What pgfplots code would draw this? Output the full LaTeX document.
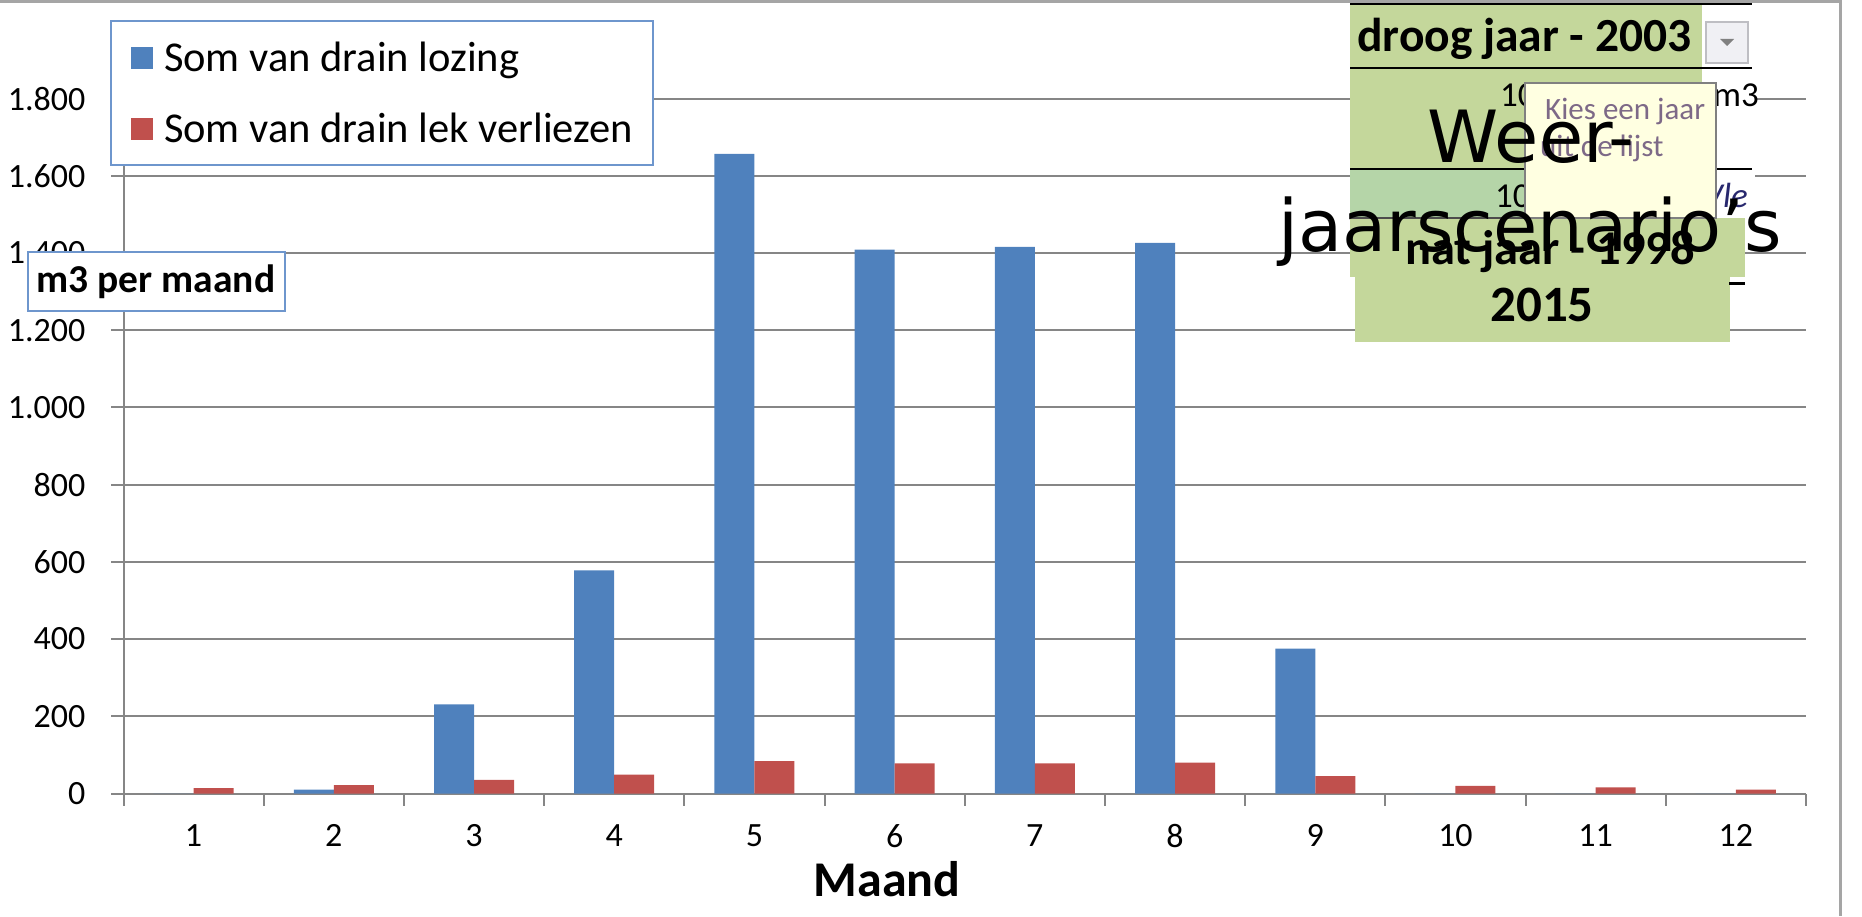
\documentclass[border=0pt]{standalone}
\usepackage{pgfplots}
\pgfplotsset{compat=1.18}
\usepackage{pgfplotstable}
\usepackage{fontspec}
\setmainfont{Carlito}
\newfontfamily\dejavu{DejaVu Sans}
\definecolor{barblue}{RGB}{79,129,189}
\definecolor{barred}{RGB}{192,80,77}
\definecolor{gridgray}{RGB}{134,134,134}
\definecolor{legblue}{RGB}{110,150,205}
\definecolor{cellgreen}{RGB}{196,215,155}
\definecolor{cellgreen2}{RGB}{181,213,168}
\definecolor{tipyellow}{RGB}{255,255,225}
\definecolor{tiptext}{RGB}{125,105,135}
\definecolor{bordergray}{RGB}{165,165,165}

\pgfplotstableread{
x lozing lek
1 0 14
2 10 22
3 231 35
4 578 49
5 1657 84
6 1409 78
7 1416 78
8 1426 80
9 375 45
10 0 20
11 0 16
12 0 10
}\data

\begin{document}
\begin{tikzpicture}[x=1pt,y=1pt]
\path[use as bounding box] (0,0) rectangle (1862,916);
\begin{axis}[
  at={(123.5pt,122.5pt)}, anchor=south west, scale only axis,
  width=1682.5pt, height=694.9pt,
  xmin=0.5, xmax=12.5, ymin=0, ymax=1800,
  ybar=0pt, bar width=40pt,
  axis x line*=bottom, axis y line*=left,
  axis line style={gridgray, line width=2pt},
  tick align=outside, major tick length=12pt,
  tick style={gridgray, line width=2pt},
  xtick={0.5,1.5,...,12.5}, xticklabels={},
  extra x ticks={1,2,...,12},
  extra x tick style={major tick length=0pt, grid=none},
  ytick={0,200,...,1800},
  ymajorgrids, grid style={gridgray, line width=2pt},
  scaled y ticks=false,
  /pgf/number format/1000 sep={.},
  /pgf/number format/assume math mode=true,
  yticklabel style={font=\fontsize{34}{40}\selectfont, inner sep=0pt, anchor=east, xshift=-26pt},
  xticklabel style={font=\fontsize{34}{40}\selectfont, inner sep=0pt, anchor=north, yshift=-31pt},
  legend style={at={(axis description cs:-0.008,1.113)}, anchor=north west,
    draw=legblue, line width=2pt, fill=white,
    inner xsep=20pt, inner ysep=21pt,
    font=\fontsize{42.5}{48}\selectfont,
    row sep=40pt, column sep=11pt, nodes={inner sep=0pt}},
  legend cell align=left,
  legend image code/.code={\fill[#1] (0pt,-11pt) rectangle (22pt,11pt);},
]
\addplot[fill=barblue, draw=none] table[x=x,y=lozing]{\data};
\addplot[fill=barred, draw=none] table[x=x,y=lek]{\data};
\legend{Som van drain lozing, Som van drain lek verliezen}
\end{axis}

% chart border
\draw[bordergray, line width=3pt] (0,914) -- (1840,914) -- (1840,0);

% y-axis title box
\node[draw=legblue, line width=2pt, fill=white, font=\bfseries\fontsize{39.5}{44}\selectfont,
  inner sep=0pt, minimum width=257pt, minimum height=59pt, anchor=north west] at (26.5,665) {m3 per maand};

% x-axis title
\node[anchor=base, font=\bfseries\fontsize{50}{60}\selectfont, inner sep=0pt] at (887,19.4) {Maand};

% overlay: spreadsheet cells
\fill[white] (1350,912) rectangle (1755,698);
\fill[cellgreen] (1350,912) rectangle (1702,848);
\fill[cellgreen] (1350,848) rectangle (1702,747);
\fill[cellgreen2] (1350,747) rectangle (1702,698);
\fill[cellgreen] (1350,698) rectangle (1745,639);
\fill[cellgreen] (1355,639) rectangle (1730,574);
\draw[black, line width=2.5pt] (1350,912) -- (1752,912);
\draw[black, line width=2.5pt] (1350,848) -- (1752,848);
\draw[black, line width=2.5pt] (1350,747) -- (1752,747);
\draw[black!70, line width=1.5pt] (1350,698) -- (1702,698);
\draw[black, line width=3pt] (1729,632) -- (1745,632);
\node[anchor=base west, inner sep=0pt, font=\bfseries\fontsize{47.5}{52}\selectfont] at (1357,864) {droog jaar - 2003};
\draw[fill={rgb,255:red,240;green,240;blue,244}, draw={rgb,255:red,190;green,190;blue,195}, line width=1.5pt] (1706,894) rectangle (1748,853);
\fill[gray] (1720,877) -- (1734,877) -- (1727,870) -- cycle;
\begin{scope}
\clip (1350,912) rectangle (1757,600);
\node[anchor=base west, inner sep=0pt, font=\fontsize{35}{40}\selectfont] at (1500,809) {10};
\node[anchor=base west, inner sep=0pt, font=\fontsize{35}{40}\selectfont] at (1713,809) {m3};
\node[anchor=base west, inner sep=0pt, font=\fontsize{35}{40}\selectfont] at (1495,708) {10};
\node[anchor=base west, inner sep=0pt, font=\itshape\fontsize{35}{40}\selectfont, text={rgb,255:red,40;green,40;blue,110}] at (1703,708) {Vle};
\end{scope}
\node[anchor=base west, inner sep=0pt, font=\bfseries\fontsize{48.5}{54}\selectfont] at (1405,651) {nat jaar - 1998};
\node[anchor=base, inner sep=0pt, font=\bfseries\fontsize{51}{56}\selectfont] at (1542,594) {2015};

% tooltip
\draw[fill=tipyellow, draw={rgb,255:red,128;green,128;blue,128}, line width=2pt] (1525,833) rectangle (1716,698);
\node[anchor=base west, inner sep=0pt, font=\fontsize{31}{36}\selectfont, text=tiptext] at (1545,796) {Kies een jaar};
\node[anchor=base west, inner sep=0pt, font=\fontsize{31}{36}\selectfont, text=tiptext] at (1540,759) {uit de lijst};

% big overlay title
\node[anchor=base, inner sep=0pt, font=\dejavu\fontsize{72}{89}\selectfont] at (1531,753) {Weer-};
\node[anchor=base, inner sep=0pt, font=\dejavu\fontsize{72}{89}\selectfont] at (1530,664) {jaarscenario’s};
\end{tikzpicture}
\end{document}
